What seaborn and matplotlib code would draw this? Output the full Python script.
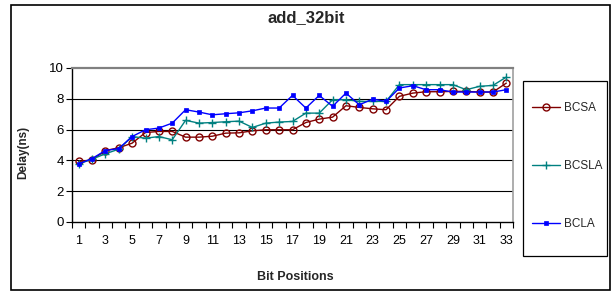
import matplotlib.pyplot as plt
from matplotlib.patches import Rectangle
import pandas as pd
import seaborn as sns

# data
positions = list(range(1, 34))
bcsa = [3.93, 4.03, 4.64, 4.82, 5.12, 5.81, 5.88, 5.88, 5.51, 5.51,
        5.57, 5.77, 5.79, 5.92, 5.99, 5.99, 5.99, 6.46, 6.68,
        6.81, 7.55, 7.44, 7.35, 7.29, 8.16, 8.37, 8.46, 8.46,
        8.48, 8.48, 8.44, 8.44, 9.02]
bcsla = [3.77, 4.08, 4.43, 4.73, 5.55, 5.44, 5.55, 5.34, 6.60, 6.42,
         6.46, 6.51, 6.55, 6.14, 6.42, 6.49, 6.53, 7.07, 7.07,
         7.94, 7.94, 7.83, 7.83, 7.83, 8.92, 8.92, 8.92, 8.92,
         8.92, 8.59, 8.81, 8.87, 9.41]
bcla = [3.77, 4.12, 4.64, 4.77, 5.55, 5.99, 6.10, 6.42, 7.29, 7.14,
        6.96, 7.03, 7.09, 7.22, 7.40, 7.40, 8.22, 7.40, 8.22,
        7.51, 8.37, 7.61, 7.98, 7.83, 8.70, 8.85, 8.59, 8.59,
        8.44, 8.44, 8.44, 8.44, 8.59]
series_names = ["BCSA", "BCSLA", "BCLA"]
x_labels = [str(p) for p in positions[::2]]

colors = {"BCSA": "#800000", "BCSLA": "#008080", "BCLA": "#0000FF"}
marker_style = {
    "BCSA": dict(marker="o", markersize=5, mfc="none", mec="#800000", mew=1.0),
    "BCSLA": dict(marker="+", markersize=6, mec="#008080", mew=1.0),
    "BCLA": dict(marker="s", markersize=3, mfc="#0000FF", mec="#0000FF", mew=0.5),
}

sns.set_theme(style="white")
plt.rcParams["font.family"] = ["Liberation Sans", "DejaVu Sans"]

W, H = 613, 291
fig = plt.figure(figsize=(W / 100, H / 100), dpi=100)
ax = fig.add_axes([72 / W, 1 - 222 / H, (513 - 72) / W, (222 - 68) / H])

df = pd.DataFrame({
    "pos": positions * 3,
    "delay": bcsa + bcsla + bcla,
    "series": [n for n in series_names for _ in positions],
})

for name in series_names:
    sns.lineplot(data=df[df["series"] == name], x="pos", y="delay", ax=ax,
                 color=colors[name], lw=1.0, label=name, legend=False,
                 zorder=3, **marker_style[name])

# axes look (old Excel style)
ax.set_xlim(0.5, 33.5)
ax.set_ylim(0, 10)
ax.set_yticks(range(0, 11, 2))
ax.set_xticks(positions[::2])
ax.set_xticklabels(x_labels)
ax.set_xticks([p - 0.5 for p in positions] + [33.5], minor=True)
ax.set_xlabel("")
ax.set_ylabel("")
for y in [2, 4, 6, 8]:
    ax.axhline(y, color="black", lw=0.8, zorder=1)
ax.spines["left"].set_color("black")
ax.spines["bottom"].set_color("black")
ax.spines["left"].set_linewidth(1.0)
ax.spines["bottom"].set_linewidth(1.0)
ax.spines["top"].set_color("#808080")
ax.spines["top"].set_linewidth(1.6)
ax.spines["right"].set_color("#a0a0a0")
ax.spines["right"].set_linewidth(1.2)
ax.tick_params(axis="y", left=True, direction="out", length=4, width=0.8,
               color="black", labelsize=9.5, pad=2, labelcolor="black")
ax.tick_params(axis="x", which="major", bottom=True, length=0, labelsize=9,
               pad=9, labelcolor="black")
ax.tick_params(axis="x", which="minor", bottom=True, direction="out",
               length=4, width=0.8, color="black")

# text
fig.text(0.5, 1 - 17.5 / H, "add_32bit", ha="center", va="center",
         fontsize=12, fontweight="bold")
fig.text(295 / W, 1 - 277 / H, "Bit Positions", ha="center", va="center",
         fontsize=9, fontweight="bold")
fig.text(23 / W, 1 - 152 / H, "Delay(ns)", ha="center", va="center",
         rotation=90, fontsize=8.5, fontweight="bold")

# legend with its own box
handles, labels = ax.get_legend_handles_labels()
fig.legend(handles, labels, loc="upper left",
           bbox_to_anchor=(532 / W, 1 - 102 / H), frameon=False,
           borderpad=0, borderaxespad=0, labelspacing=3.9,
           handlelength=2.4, handletextpad=0.3, fontsize=8.5)
fig.patches.append(Rectangle((523 / W, 1 - 256 / H), (607 - 523) / W,
                             (256 - 81) / H, transform=fig.transFigure,
                             fill=False, edgecolor="black", lw=0.9))

# outer chart frame
fig.patches.append(Rectangle((11 / W, 1 - 290 / H), (610 - 11) / W,
                             (290 - 5) / H, transform=fig.transFigure,
                             fill=False, edgecolor="black", lw=1.2))

fig.savefig("out.png", dpi=100)
